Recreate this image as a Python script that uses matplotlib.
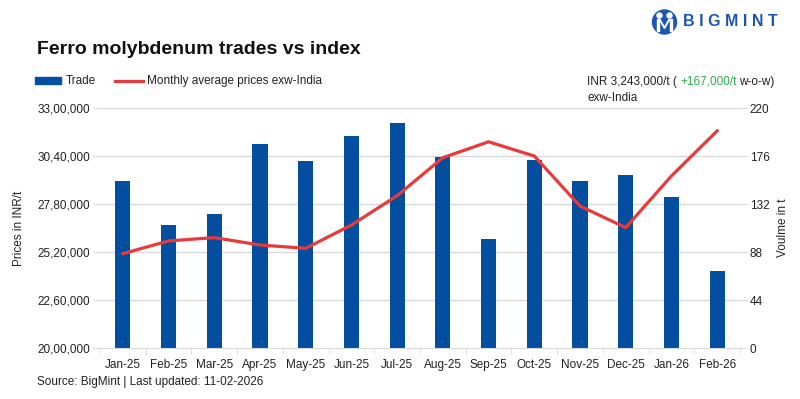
import matplotlib
matplotlib.use("Agg")
import matplotlib.pyplot as plt
from matplotlib.patches import Ellipse, Rectangle
from matplotlib.lines import Line2D

plt.rcParams['font.family'] = ['Liberation Sans Narrow', 'Liberation Sans', 'DejaVu Sans']

months = ["Jan-25", "Feb-25", "Mar-25", "Apr-25", "May-25", "Jun-25", "Jul-25",
          "Aug-25", "Sep-25", "Oct-25", "Nov-25", "Dec-25", "Jan-26", "Feb-26"]
trade_volume = [153, 113, 123, 187, 171, 194, 206, 175, 100, 172, 153, 159, 138, 71]
price_index = [2511000, 2580000, 2598000, 2558000, 2540000, 2666000, 2825000,
               3031000, 3117000, 3040000, 2769000, 2652000, 2932000, 3176000]
left_ticks = [2000000, 2260000, 2520000, 2780000, 3040000, 3300000]
left_tick_labels = ["20,00,000", "22,60,000", "25,20,000", "27,80,000", "30,40,000", "33,00,000"]
right_ticks = [0, 44, 88, 132, 176, 220]

BLUE = "#044ea0"
RED = "#e83a3a"
GRID = "#d9d9d9"
W, H = 800, 399


def fx(px):
    return px / W


def fy(py):
    return 1 - py / H


fig = plt.figure(figsize=(8, 3.99), dpi=100)
ax = fig.add_axes([0.125, 0.1278, 0.80, 0.6015])
ax2 = ax.twinx()

x = list(range(len(months)))
ax2.bar(x, trade_volume, width=0.33, color=BLUE, zorder=2)
ax.plot(x, price_index, color=RED, lw=2.3, zorder=3, solid_joinstyle='miter')
ax.set_zorder(ax2.get_zorder() + 1)
ax.patch.set_visible(False)

ax.set_xlim(-0.5, len(months) - 0.5)
ax.set_ylim(2000000, 3300000)
ax.set_yticks(left_ticks)
ax.set_yticklabels(left_tick_labels)
ax2.set_ylim(0, 220)
ax2.set_yticks(right_ticks)
ax2.set_yticklabels([str(v) for v in right_ticks])

for t in right_ticks[1:]:
    ax2.axhline(t, color=GRID, lw=1, zorder=0)

ax.set_xticks(x)
ax.set_xticklabels(months)
ax.set_xticks([i + 0.5 for i in range(-1, len(months))], minor=True)
ax.tick_params(axis='x', which='major', length=0, pad=8, labelsize=8.5, colors='#222222')
ax.tick_params(axis='x', which='minor', length=4, color=GRID, direction='out')
ax.tick_params(axis='y', length=5, color=GRID, labelsize=8.5, pad=2, labelcolor='#222222')
ax2.tick_params(axis='y', length=5, color=GRID, labelsize=8.5, pad=2, labelcolor='#222222')

for a in (ax, ax2):
    for s in ('top', 'left', 'right'):
        a.spines[s].set_visible(False)
    a.spines['bottom'].set_color(GRID)
ax2.spines['bottom'].set_visible(False)

ax.set_ylabel("Prices in INR/t", fontsize=8.5, labelpad=9, color='#222222')
ax2.set_ylabel("Voulme in t", fontsize=8.5, labelpad=5, color='#222222', rotation=90)

# title
fig.text(fx(37), fy(50), "Ferro molybdenum trades vs index", fontsize=14, fontweight='bold',
         color='#111111', va='center', family=['Liberation Sans', 'DejaVu Sans'])

# legend (manual)
fig.patches.append(Rectangle((fx(35), fy(84)), 26 / W, 7 / H, transform=fig.transFigure,
                             color=BLUE))
fig.text(fx(66), fy(81), "Trade", fontsize=8.5, va='center', color='#222222')
fig.lines.append(Line2D([fx(115), fx(143)], [fy(81), fy(81)], transform=fig.transFigure,
                        color=RED, lw=2.3))
fig.text(fx(147), fy(81), "Monthly average prices exw-India", fontsize=8.5, va='center',
         color='#222222')

# annotation
y_ann = fy(82)
t1 = fig.text(fx(587), y_ann, "INR 3,243,000/t ( ", fontsize=8.5, va='center', color='#222222')
fig.canvas.draw()
r = fig.canvas.get_renderer()
bb = t1.get_window_extent(r)
t2 = fig.text(bb.x1 / W, y_ann, "+167,000/t", fontsize=8.5, va='center', color='#2eaa4a')
bb2 = t2.get_window_extent(r)
fig.text(bb2.x1 / W + 0.003, y_ann, "w-o-w)", fontsize=8.5, va='center', color='#222222')
fig.text(fx(587), fy(98), "exw-India", fontsize=8.5, va='center', color='#222222')

# logo
LOGO = "#1b56b0"
fig.patches.append(Ellipse((fx(664.5), fy(22)), 24 / W, 24 / H, transform=fig.transFigure,
                           color=LOGO))
for hx in (659.5, 669.5):
    fig.patches.append(Ellipse((fx(hx), fy(15.5)), 5 / W, 5 / H, transform=fig.transFigure,
                               color='white'))
for (x0, x1) in ((657, 659.2), (669.8, 672)):
    fig.patches.append(Rectangle((fx(x0), fy(31)), (x1 - x0) / W, 12 / H,
                                 transform=fig.transFigure, color='white'))
fig.lines.append(Line2D([fx(660), fx(664.5), fx(669)], [fy(20), fy(28), fy(20)],
                        transform=fig.transFigure, color='white', lw=1.4))
fig.text(fx(683), fy(22), "B I G M I N T", fontsize=11.5, fontweight='bold', color=LOGO,
         va='center', family=['Liberation Sans', 'DejaVu Sans'])

# source
fig.text(fx(37), fy(382), "Source: BigMint | Last updated: 11-02-2026", fontsize=8.5,
         va='center', color='#222222')

fig.savefig("out.png", dpi=100)
